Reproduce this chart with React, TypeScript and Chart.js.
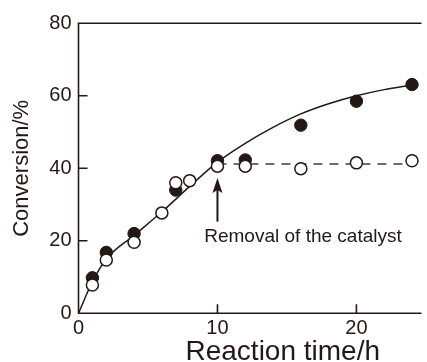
import { useEffect, useRef } from 'react';
import { Chart, registerables } from 'chart.js';

Chart.register(...registerables);

// ---- data ----
const filledTimes = [1, 2, 4, 7, 10, 12, 16, 20, 24];
const filledConversion = [9.8, 16.8, 22.0, 34.0, 42.1, 42.3, 51.9, 58.5, 63.1];
const openTimes = [1, 2, 4, 6, 7, 8, 10, 12, 16, 20, 24];
const openConversion = [7.8, 14.7, 19.6, 27.7, 36.0, 36.6, 40.6, 40.6, 39.9, 41.5, 42.1];
const curveTimes = [0, 1, 2, 4, 6, 8, 10, 12, 14, 16, 18, 20, 22, 24];
const curveConversion = [0, 8.7, 15.0, 21.5, 28.0, 35.0, 41.7, 46.9, 51.3, 55.0, 57.8, 60.0, 61.7, 63.0];
const plateauTimes = [10, 24];
const plateauConversion = [41.2, 41.2];
const xTicks = [0, 10, 20];
const yTicks = [0, 20, 40, 60, 80];
const xTitle = 'Reaction time/h';
const yTitle = 'Conversion/%';
const annotationText = 'Removal of the catalyst';

const INK = '#231815';
const FONT = "'Liberation Sans', Arial, Helvetica, sans-serif";

const pts = (xs: number[], ys: number[]) => xs.map((x, i) => ({ x, y: ys[i] }));

const framePlugin = {
  id: 'frame',
  beforeDatasetsDraw(chart: any) {
    const { ctx, chartArea } = chart;
    const { left, right, top, bottom } = chartArea;
    const x = chart.scales.x;
    const y = chart.scales.y;
    ctx.save();
    ctx.strokeStyle = INK;
    ctx.lineWidth = 1.6;
    ctx.beginPath();
    ctx.moveTo(right + 2, top);
    ctx.lineTo(left, top);
    ctx.lineTo(left, bottom);
    ctx.lineTo(right + 2, bottom);
    ctx.stroke();
    ctx.beginPath();
    yTicks.forEach((v) => {
      if (v === yTicks[0] || v === yTicks[yTicks.length - 1]) return;
      const py = y.getPixelForValue(v);
      ctx.moveTo(left, py);
      ctx.lineTo(left + 9, py);
    });
    xTicks.forEach((v) => {
      if (v === xTicks[0]) return;
      const px = x.getPixelForValue(v);
      ctx.moveTo(px, bottom);
      ctx.lineTo(px, bottom - 9);
    });
    ctx.stroke();
    ctx.restore();
  },
  afterDatasetsDraw(chart: any) {
    const { ctx, chartArea } = chart;
    const x = chart.scales.x;
    const y = chart.scales.y;
    ctx.save();
    // arrow
    const ax = x.getPixelForValue(10);
    const tipY = y.getPixelForValue(37.3);
    const tailY = y.getPixelForValue(25.3);
    ctx.strokeStyle = INK;
    ctx.fillStyle = INK;
    ctx.lineWidth = 2;
    ctx.beginPath();
    ctx.moveTo(ax, tailY);
    ctx.lineTo(ax, tipY + 8);
    ctx.stroke();
    ctx.beginPath();
    ctx.moveTo(ax, tipY);
    ctx.lineTo(ax - 5, tipY + 15);
    ctx.lineTo(ax, tipY + 12);
    ctx.lineTo(ax + 5, tipY + 15);
    ctx.closePath();
    ctx.fill();
    // annotation label
    ctx.font = `19px ${FONT}`;
    ctx.textAlign = 'left';
    ctx.textBaseline = 'alphabetic';
    ctx.fillText(annotationText, x.getPixelForValue(9.05), y.getPixelForValue(19.75));
    // x axis title
    ctx.font = `28px ${FONT}`;
    ctx.textAlign = 'left';
    ctx.fillText(xTitle, chartArea.left + 107, chartArea.bottom + 46.7);
    ctx.restore();
  },
};

export default function App() {
  const ref = useRef<HTMLCanvasElement | null>(null);
  useEffect(() => {
    if (!ref.current) return;
    const chart = new Chart(ref.current, {
      type: 'scatter',
      data: {
        datasets: [
          {
            label: 'open',
            data: pts(openTimes, openConversion),
            showLine: false,
            pointRadius: 6,
            pointBorderWidth: 1.5,
            pointBackgroundColor: '#ffffff',
            pointBorderColor: INK,
          },
          {
            label: 'filled',
            data: pts(filledTimes, filledConversion),
            showLine: false,
            pointRadius: 6.2,
            pointBorderWidth: 1,
            pointBackgroundColor: INK,
            pointBorderColor: INK,
          },
          {
            label: 'curve',
            data: pts(curveTimes, curveConversion),
            showLine: true,
            pointRadius: 0,
            borderColor: INK,
            borderWidth: 1.5,
            cubicInterpolationMode: 'monotone',
          },
          {
            label: 'plateau',
            data: pts(plateauTimes, plateauConversion),
            showLine: true,
            pointRadius: 0,
            borderColor: '#6e6e6e',
            borderWidth: 2,
            borderDash: [9, 7],
          },
        ],
      },
      options: {
        responsive: false,
        animation: false,
        devicePixelRatio: 1,
        layout: { padding: { top: 23.3, right: 0, bottom: 0, left: 0 } },
        plugins: { legend: { display: false }, tooltip: { enabled: false } },
        scales: {
          x: {
            type: 'linear',
            min: 0,
            max: 24.54,
            afterBuildTicks: (s: any) => {
              s.ticks = xTicks.map((v) => ({ value: v }));
            },
            afterFit: (s: any) => {
              s.height = 48.7;
            },
            grid: { display: false, drawTicks: false },
            border: { display: false },
            ticks: { color: INK, padding: 3, font: { family: FONT, size: 20 }, maxRotation: 0 },
            title: { display: false },
          },
          y: {
            type: 'linear',
            min: 0,
            max: 80,
            afterBuildTicks: (s: any) => {
              s.ticks = yTicks.map((v) => ({ value: v }));
            },
            afterFit: (s: any) => {
              s.width = 78.5;
            },
            grid: { display: false, drawTicks: false },
            border: { display: false },
            ticks: { color: INK, padding: 7, font: { family: FONT, size: 20 } },
            title: {
              display: true,
              text: yTitle,
              color: INK,
              font: { family: FONT, size: 22, lineHeight: 1.2 },
              padding: { top: 8.5, bottom: 0 },
            },
          },
        },
      },
      plugins: [framePlugin],
    });
    return () => chart.destroy();
  }, []);
  return (
    <div style={{ position: 'absolute', left: 0, top: 0, width: 427, height: 362, background: '#fff' }}>
      <canvas ref={ref} width={427} height={362} style={{ display: 'block' }} />
    </div>
  );
}
